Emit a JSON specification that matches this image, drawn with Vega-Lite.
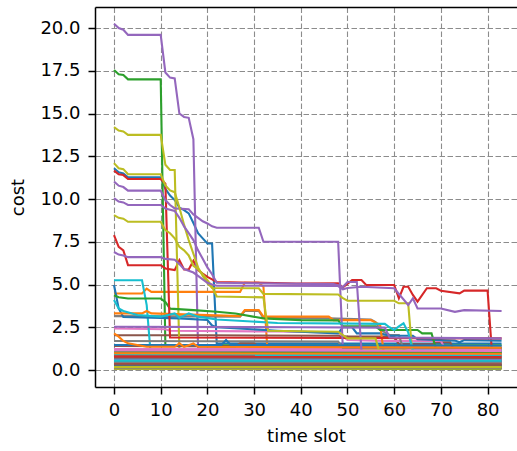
{
"$schema": "https://vega.github.io/schema/vega-lite/v6.json",
"width": 422, "height": 380,
"autosize": {"type": "none"},
"padding": {"left": 95, "top": 7, "right": 0, "bottom": 64},
"background": "white",
"config": {"view": {"stroke": null}, "font": "DejaVu Sans"},
"data": {"values": [
{"s":"s00","t":0,"v":11.8},{"s":"s00","t":1,"v":11.56},{"s":"s00","t":2,"v":11.5},{"s":"s00","t":3,"v":11.27},{"s":"s00","t":10,"v":11.27},{"s":"s00","t":11,"v":10.6},{"s":"s00","t":12,"v":10.2},{"s":"s00","t":13,"v":9.94},{"s":"s00","t":14,"v":9.5},{"s":"s00","t":15,"v":9.35},{"s":"s00","t":16,"v":9.16},{"s":"s00","t":17,"v":8.6},{"s":"s00","t":18,"v":8.0},{"s":"s00","t":19,"v":7.7},{"s":"s00","t":20,"v":7.4},{"s":"s00","t":21,"v":7.4},{"s":"s00","t":22,"v":1.55},{"s":"s00","t":83,"v":1.55},
{"s":"s01","t":0,"v":4.47},{"s":"s01","t":6,"v":4.47},{"s":"s01","t":7,"v":4.76},{"s":"s01","t":8,"v":4.57},{"s":"s01","t":27,"v":4.57},{"s":"s01","t":28,"v":5.1},{"s":"s01","t":31,"v":5.1},{"s":"s01","t":32,"v":4.87},{"s":"s01","t":33,"v":0.55},{"s":"s01","t":83,"v":0.55},
{"s":"s02","t":0,"v":17.55},{"s":"s02","t":1,"v":17.3},{"s":"s02","t":2,"v":17.25},{"s":"s02","t":3,"v":17.0},{"s":"s02","t":10,"v":17.0},{"s":"s02","t":11,"v":1.45},{"s":"s02","t":83,"v":1.45},
{"s":"s03","t":0,"v":7.89},{"s":"s03","t":1,"v":7.2},{"s":"s03","t":2,"v":7.0},{"s":"s03","t":3,"v":6.13},{"s":"s03","t":10,"v":6.13},{"s":"s03","t":11,"v":5.94},{"s":"s03","t":13,"v":5.84},{"s":"s03","t":14,"v":6.43},{"s":"s03","t":15,"v":5.88},{"s":"s03","t":16,"v":5.88},{"s":"s03","t":17,"v":6.39},{"s":"s03","t":18,"v":5.84},{"s":"s03","t":19,"v":5.64},{"s":"s03","t":20,"v":5.45},{"s":"s03","t":21,"v":5.3},{"s":"s03","t":22,"v":5.15},{"s":"s03","t":39,"v":5.06},{"s":"s03","t":48,"v":5.07},{"s":"s03","t":49,"v":4.83},{"s":"s03","t":51,"v":5.26},{"s":"s03","t":53,"v":5.26},{"s":"s03","t":54,"v":4.97},{"s":"s03","t":60,"v":4.97},{"s":"s03","t":61,"v":4.19},{"s":"s03","t":62,"v":4.87},{"s":"s03","t":63,"v":4.87},{"s":"s03","t":64,"v":4.39},{"s":"s03","t":65,"v":4.0},{"s":"s03","t":67,"v":4.78},{"s":"s03","t":69,"v":4.78},{"s":"s03","t":70,"v":4.64},{"s":"s03","t":74,"v":4.48},{"s":"s03","t":75,"v":4.64},{"s":"s03","t":80,"v":4.64},{"s":"s03","t":81,"v":0.8},{"s":"s03","t":83,"v":0.8},
{"s":"s04","t":0,"v":20.25},{"s":"s04","t":1,"v":20.0},{"s":"s04","t":2,"v":19.9},{"s":"s04","t":3,"v":19.6},{"s":"s04","t":10,"v":19.6},{"s":"s04","t":11,"v":17.4},{"s":"s04","t":12,"v":17.1},{"s":"s04","t":13,"v":17.05},{"s":"s04","t":14,"v":15.0},{"s":"s04","t":15,"v":14.8},{"s":"s04","t":16,"v":14.75},{"s":"s04","t":17,"v":13.5},{"s":"s04","t":18,"v":1.25},{"s":"s04","t":83,"v":1.25},
{"s":"s05","t":0,"v":2.03},{"s":"s05","t":20,"v":2.03},{"s":"s05","t":48,"v":2.0},{"s":"s05","t":50,"v":1.95},{"s":"s05","t":60,"v":1.95},{"s":"s05","t":61,"v":1.5},{"s":"s05","t":68,"v":1.5},{"s":"s05","t":69,"v":1.62},{"s":"s05","t":72,"v":1.62},{"s":"s05","t":73,"v":1.05},{"s":"s05","t":83,"v":1.0},
{"s":"s06","t":0,"v":2.43},{"s":"s06","t":11,"v":2.38},{"s":"s06","t":12,"v":2.3},{"s":"s06","t":35,"v":2.25},{"s":"s06","t":48,"v":2.2},{"s":"s06","t":50,"v":1.75},{"s":"s06","t":58,"v":1.7},{"s":"s06","t":70,"v":1.7},{"s":"s06","t":71,"v":1.2},{"s":"s06","t":83,"v":1.2},
{"s":"s07","t":0,"v":3.15},{"s":"s07","t":27,"v":3.12},{"s":"s07","t":28,"v":3.45},{"s":"s07","t":31,"v":3.45},{"s":"s07","t":32,"v":3.05},{"s":"s07","t":46,"v":3.02},{"s":"s07","t":55,"v":2.95},{"s":"s07","t":56,"v":2.8},{"s":"s07","t":57,"v":2.35},{"s":"s07","t":59,"v":2.05},{"s":"s07","t":61,"v":2.05},{"s":"s07","t":62,"v":1.2},{"s":"s07","t":83,"v":1.1},
{"s":"s08","t":0,"v":14.2},{"s":"s08","t":1,"v":14.0},{"s":"s08","t":2,"v":13.95},{"s":"s08","t":3,"v":13.75},{"s":"s08","t":10,"v":13.75},{"s":"s08","t":11,"v":12.0},{"s":"s08","t":12,"v":11.7},{"s":"s08","t":13,"v":11.7},{"s":"s08","t":14,"v":1.15},{"s":"s08","t":83,"v":1.15},
{"s":"s09","t":0,"v":5.25},{"s":"s09","t":6,"v":5.25},{"s":"s09","t":7,"v":3.8},{"s":"s09","t":8,"v":0.45},{"s":"s09","t":83,"v":0.45},
{"s":"s10","t":0,"v":4.97},{"s":"s10","t":1,"v":3.6},{"s":"s10","t":2,"v":3.1},{"s":"s10","t":14,"v":3.02},{"s":"s10","t":20,"v":2.92},{"s":"s10","t":21,"v":2.6},{"s":"s10","t":22,"v":2.5},{"s":"s10","t":35,"v":2.3},{"s":"s10","t":48,"v":2.14},{"s":"s10","t":49,"v":2.5},{"s":"s10","t":51,"v":2.5},{"s":"s10","t":52,"v":2.14},{"s":"s10","t":57,"v":2.14},{"s":"s10","t":59,"v":2.0},{"s":"s10","t":64,"v":2.0},{"s":"s10","t":65,"v":1.8},{"s":"s10","t":73,"v":1.72},{"s":"s10","t":74,"v":1.62},{"s":"s10","t":75,"v":1.75},{"s":"s10","t":83,"v":1.72},
{"s":"s11","t":0,"v":3.31},{"s":"s11","t":6,"v":3.31},{"s":"s11","t":7,"v":3.45},{"s":"s11","t":8,"v":3.31},{"s":"s11","t":27,"v":3.15},{"s":"s11","t":28,"v":3.5},{"s":"s11","t":31,"v":3.5},{"s":"s11","t":32,"v":3.12},{"s":"s11","t":46,"v":3.12},{"s":"s11","t":47,"v":2.92},{"s":"s11","t":55,"v":2.92},{"s":"s11","t":57,"v":2.63},{"s":"s11","t":58,"v":0.5},{"s":"s11","t":83,"v":0.5},
{"s":"s12","t":0,"v":4.37},{"s":"s12","t":1,"v":4.25},{"s":"s12","t":3,"v":4.18},{"s":"s12","t":10,"v":4.18},{"s":"s12","t":11,"v":3.98},{"s":"s12","t":12,"v":3.59},{"s":"s12","t":17,"v":3.5},{"s":"s12","t":22,"v":3.41},{"s":"s12","t":26,"v":3.3},{"s":"s12","t":32,"v":3.02},{"s":"s12","t":40,"v":2.92},{"s":"s12","t":48,"v":2.9},{"s":"s12","t":49,"v":2.55},{"s":"s12","t":56,"v":2.55},{"s":"s12","t":57,"v":2.34},{"s":"s12","t":65,"v":2.34},{"s":"s12","t":66,"v":2.14},{"s":"s12","t":68,"v":2.14},{"s":"s12","t":69,"v":1.2},{"s":"s12","t":83,"v":1.2},
{"s":"s13","t":0,"v":11.66},{"s":"s13","t":1,"v":11.45},{"s":"s13","t":2,"v":11.4},{"s":"s13","t":3,"v":11.17},{"s":"s13","t":10,"v":11.17},{"s":"s13","t":11,"v":10.9},{"s":"s13","t":12,"v":1.9},{"s":"s13","t":83,"v":1.85},
{"s":"s14","t":0,"v":11.02},{"s":"s14","t":1,"v":10.78},{"s":"s14","t":2,"v":10.7},{"s":"s14","t":3,"v":10.49},{"s":"s14","t":10,"v":10.49},{"s":"s14","t":11,"v":9.94},{"s":"s14","t":12,"v":9.65},{"s":"s14","t":13,"v":9.45},{"s":"s14","t":16,"v":9.4},{"s":"s14","t":17,"v":9.1},{"s":"s14","t":18,"v":8.9},{"s":"s14","t":19,"v":8.7},{"s":"s14","t":20,"v":8.57},{"s":"s14","t":21,"v":8.4},{"s":"s14","t":22,"v":8.32},{"s":"s14","t":31,"v":8.32},{"s":"s14","t":32,"v":7.5},{"s":"s14","t":48,"v":7.5},{"s":"s14","t":49,"v":1.3},{"s":"s14","t":83,"v":1.3},
{"s":"s15","t":0,"v":1.4},{"s":"s15","t":26,"v":1.38},{"s":"s15","t":27,"v":1.56},{"s":"s15","t":30,"v":1.56},{"s":"s15","t":31,"v":1.36},{"s":"s15","t":83,"v":1.3},
{"s":"s16","t":0,"v":1.22},{"s":"s16","t":52,"v":1.22},{"s":"s16","t":53,"v":1.3},{"s":"s16","t":62,"v":1.3},{"s":"s16","t":64,"v":1.18},{"s":"s16","t":83,"v":1.18},
{"s":"s17","t":0,"v":1.7},{"s":"s17","t":20,"v":1.68},{"s":"s17","t":48,"v":1.66},{"s":"s17","t":49,"v":1.3},{"s":"s17","t":83,"v":1.3},
{"s":"s18","t":0,"v":12.1},{"s":"s18","t":1,"v":11.8},{"s":"s18","t":2,"v":11.75},{"s":"s18","t":3,"v":11.45},{"s":"s18","t":10,"v":11.45},{"s":"s18","t":11,"v":10.8},{"s":"s18","t":12,"v":10.5},{"s":"s18","t":13,"v":10.4},{"s":"s18","t":14,"v":9.5},{"s":"s18","t":15,"v":8.5},{"s":"s18","t":16,"v":7.6},{"s":"s18","t":17,"v":6.8},{"s":"s18","t":18,"v":6.0},{"s":"s18","t":19,"v":5.5},{"s":"s18","t":20,"v":5.1},{"s":"s18","t":21,"v":4.8},{"s":"s18","t":31,"v":4.78},{"s":"s18","t":32,"v":4.45},{"s":"s18","t":48,"v":4.42},{"s":"s18","t":49,"v":4.2},{"s":"s18","t":50,"v":4.05},{"s":"s18","t":60,"v":4.05},{"s":"s18","t":61,"v":3.9},{"s":"s18","t":63,"v":3.9},{"s":"s18","t":64,"v":0.55},{"s":"s18","t":83,"v":0.55},
{"s":"s19","t":0,"v":4.1},{"s":"s19","t":1,"v":3.6},{"s":"s19","t":2,"v":3.45},{"s":"s19","t":5,"v":3.22},{"s":"s19","t":10,"v":3.12},{"s":"s19","t":13,"v":3.31},{"s":"s19","t":14,"v":3.05},{"s":"s19","t":16,"v":3.31},{"s":"s19","t":18,"v":3.12},{"s":"s19","t":22,"v":2.95},{"s":"s19","t":35,"v":2.75},{"s":"s19","t":58,"v":2.7},{"s":"s19","t":59,"v":2.5},{"s":"s19","t":60,"v":2.34},{"s":"s19","t":61,"v":2.55},{"s":"s19","t":62,"v":2.73},{"s":"s19","t":63,"v":2.2},{"s":"s19","t":64,"v":1.15},{"s":"s19","t":83,"v":1.07},
{"s":"s20","t":0,"v":1.46},{"s":"s20","t":23,"v":1.46},{"s":"s20","t":24,"v":1.75},{"s":"s20","t":25,"v":1.46},{"s":"s20","t":83,"v":1.42},
{"s":"s21","t":0,"v":2.14},{"s":"s21","t":1,"v":1.95},{"s":"s21","t":2,"v":1.7},{"s":"s21","t":3,"v":1.56},{"s":"s21","t":7,"v":1.36},{"s":"s21","t":13,"v":1.36},{"s":"s21","t":14,"v":1.56},{"s":"s21","t":15,"v":1.36},{"s":"s21","t":16,"v":1.45},{"s":"s21","t":17,"v":1.56},{"s":"s21","t":18,"v":1.36},{"s":"s21","t":83,"v":1.3},
{"s":"s22","t":0,"v":0.7},{"s":"s22","t":83,"v":0.68},
{"s":"s23","t":0,"v":1.0},{"s":"s23","t":83,"v":0.95},
{"s":"s24","t":0,"v":10.05},{"s":"s24","t":1,"v":9.85},{"s":"s24","t":2,"v":9.8},{"s":"s24","t":3,"v":9.65},{"s":"s24","t":10,"v":9.65},{"s":"s24","t":11,"v":9.45},{"s":"s24","t":13,"v":9.3},{"s":"s24","t":14,"v":8.9},{"s":"s24","t":15,"v":8.4},{"s":"s24","t":16,"v":8.0},{"s":"s24","t":17,"v":7.6},{"s":"s24","t":18,"v":7.0},{"s":"s24","t":19,"v":6.5},{"s":"s24","t":20,"v":6.0},{"s":"s24","t":21,"v":5.6},{"s":"s24","t":22,"v":5.1},{"s":"s24","t":47,"v":5.02},{"s":"s24","t":48,"v":4.95},{"s":"s24","t":49,"v":4.85},{"s":"s24","t":50,"v":5.15},{"s":"s24","t":52,"v":5.15},{"s":"s24","t":53,"v":1.1},{"s":"s24","t":83,"v":1.1},
{"s":"s25","t":0,"v":0.85},{"s":"s25","t":83,"v":0.82},
{"s":"s26","t":0,"v":0.5},{"s":"s26","t":83,"v":0.48},
{"s":"s27","t":0,"v":0.62},{"s":"s27","t":83,"v":0.6},
{"s":"s28","t":0,"v":9.06},{"s":"s28","t":1,"v":8.9},{"s":"s28","t":2,"v":8.85},{"s":"s28","t":3,"v":8.67},{"s":"s28","t":10,"v":8.67},{"s":"s28","t":11,"v":8.18},{"s":"s28","t":12,"v":8.0},{"s":"s28","t":13,"v":7.7},{"s":"s28","t":14,"v":7.2},{"s":"s28","t":15,"v":7.0},{"s":"s28","t":16,"v":6.7},{"s":"s28","t":17,"v":6.1},{"s":"s28","t":18,"v":5.9},{"s":"s28","t":19,"v":5.6},{"s":"s28","t":20,"v":5.26},{"s":"s28","t":21,"v":4.87},{"s":"s28","t":22,"v":4.3},{"s":"s28","t":32,"v":4.25},{"s":"s28","t":33,"v":2.3},{"s":"s28","t":48,"v":2.24},{"s":"s28","t":50,"v":1.85},{"s":"s28","t":56,"v":1.85},{"s":"s28","t":57,"v":0.9},{"s":"s28","t":83,"v":0.9},
{"s":"s29","t":0,"v":0.3},{"s":"s29","t":83,"v":0.3},
{"s":"s30","t":0,"v":1.12},{"s":"s30","t":83,"v":1.08},
{"s":"s31","t":0,"v":0.92},{"s":"s31","t":83,"v":0.9},
{"s":"s32","t":0,"v":0.28},{"s":"s32","t":83,"v":0.26},
{"s":"s33","t":0,"v":0.58},{"s":"s33","t":83,"v":0.56},
{"s":"s34","t":0,"v":6.9},{"s":"s34","t":1,"v":6.75},{"s":"s34","t":2,"v":6.7},{"s":"s34","t":3,"v":6.6},{"s":"s34","t":10,"v":6.6},{"s":"s34","t":11,"v":6.5},{"s":"s34","t":13,"v":6.45},{"s":"s34","t":14,"v":6.2},{"s":"s34","t":15,"v":5.9},{"s":"s34","t":16,"v":5.8},{"s":"s34","t":17,"v":5.7},{"s":"s34","t":18,"v":5.5},{"s":"s34","t":19,"v":5.3},{"s":"s34","t":20,"v":5.1},{"s":"s34","t":21,"v":5.0},{"s":"s34","t":22,"v":4.93},{"s":"s34","t":48,"v":4.91},{"s":"s34","t":49,"v":4.72},{"s":"s34","t":50,"v":4.8},{"s":"s34","t":53,"v":4.87},{"s":"s34","t":60,"v":4.78},{"s":"s34","t":63,"v":3.8},{"s":"s34","t":64,"v":4.19},{"s":"s34","t":65,"v":3.6},{"s":"s34","t":70,"v":3.6},{"s":"s34","t":73,"v":3.4},{"s":"s34","t":75,"v":3.5},{"s":"s34","t":83,"v":3.45},
{"s":"s35","t":0,"v":0.4},{"s":"s35","t":83,"v":0.38},
{"s":"s36","t":0,"v":0.78},{"s":"s36","t":83,"v":0.75},
{"s":"s37","t":0,"v":0.2},{"s":"s37","t":83,"v":0.2},
{"s":"s38","t":0,"v":0.06},{"s":"s38","t":83,"v":0.06},
{"s":"s39","t":0,"v":0.66},{"s":"s39","t":83,"v":0.64},
{"s":"s40","t":0,"v":0.52},{"s":"s40","t":83,"v":0.5},
{"s":"s41","t":0,"v":0.14},{"s":"s41","t":83,"v":0.14},
{"s":"s42","t":0,"v":1.06},{"s":"s42","t":83,"v":1.0},
{"s":"s43","t":0,"v":0.35},{"s":"s43","t":83,"v":0.34},
{"s":"s44","t":0,"v":2.53},{"s":"s44","t":40,"v":2.5},{"s":"s44","t":58,"v":2.48},{"s":"s44","t":59,"v":1.9},{"s":"s44","t":83,"v":1.85},
{"s":"s45","t":0,"v":0.72},{"s":"s45","t":83,"v":0.7},
{"s":"s46","t":0,"v":0.95},{"s":"s46","t":83,"v":0.92},
{"s":"s47","t":0,"v":0.45},{"s":"s47","t":83,"v":0.44},
{"s":"s48","t":0,"v":0.22},{"s":"s48","t":83,"v":0.22},
{"s":"s49","t":0,"v":0.88},{"s":"s49","t":83,"v":0.85},
{"s":"s50","t":0,"v":0.24},{"s":"s50","t":83,"v":0.24},
{"s":"s51","t":0,"v":0.98},{"s":"s51","t":83,"v":0.95},
{"s":"s52","t":0,"v":0.12},{"s":"s52","t":83,"v":0.11},
{"s":"s53","t":0,"v":0.8},{"s":"s53","t":83,"v":0.78},
{"s":"s54","t":0,"v":0.6},{"s":"s54","t":83,"v":0.58},
{"s":"s55","t":0,"v":0.32},{"s":"s55","t":83,"v":0.3},
{"s":"s56","t":0,"v":1.15},{"s":"s56","t":83,"v":1.12},
{"s":"s57","t":0,"v":0.1},{"s":"s57","t":83,"v":0.1},
{"s":"s58","t":0,"v":0.17},{"s":"s58","t":83,"v":0.17},
{"s":"s59","t":0,"v":0.55},{"s":"s59","t":83,"v":0.54}
]},
"layer": [
{
"mark": {"type": "line", "strokeWidth": 2.1, "clip": true},
"encoding": {
"x": {"field": "t", "type": "quantitative",
"scale": {"domain": [-4.07, 86.3], "nice": false, "zero": false},
"axis": {"orient": "bottom", "values": [0,10,20,30,40,50,60,70,80], "title": "time slot",
"grid": true, "gridDash": [5.5, 2.5], "gridColor": "#8c8c8c", "gridWidth": 1.1,
"domainColor": "black", "domainWidth": 1.5, "tickColor": "black", "tickSize": 7, "tickWidth": 1.5,
"labelFontSize": 18, "labelColor": "black", "labelPadding": 7, "labelFlush": false,
"titleFontSize": 18, "titleFontWeight": "normal", "titleColor": "black", "titlePadding": 8}},
"y": {"field": "v", "type": "quantitative",
"scale": {"domain": [-0.994, 21.23], "nice": false, "zero": false},
"axis": {"values": [0,2.5,5,7.5,10,12.5,15,17.5,20], "format": ".1f", "title": "cost",
"grid": true, "gridDash": [5.5, 2.5], "gridColor": "#8c8c8c", "gridWidth": 1.1,
"domainColor": "black", "domainWidth": 1.5, "tickColor": "black", "tickSize": 7, "tickWidth": 1.5,
"labelFontSize": 18, "labelColor": "black", "labelPadding": 8,
"titleFontSize": 18, "titleFontWeight": "normal", "titleColor": "black", "titlePadding": 12}},
"color": {"field": "s", "type": "nominal", "legend": null,
"scale": {"range": ["#1f77b4","#ff7f0e","#2ca02c","#d62728","#9467bd","#8c564b","#e377c2","#7f7f7f","#bcbd22","#17becf"]}}
}
},
{
"mark": {"type": "point", "opacity": 0},
"encoding": {
"x": {"field": "t", "type": "quantitative",
"scale": {"domain": [-4.07, 86.3], "nice": false, "zero": false},
"axis": {"orient": "top", "domain": true, "domainColor": "black", "domainWidth": 1.5, "ticks": false, "labels": false, "grid": false, "title": null}}
}
}
],
"resolve": {"scale": {"x": "independent"}, "axis": {"x": "independent"}}
}
